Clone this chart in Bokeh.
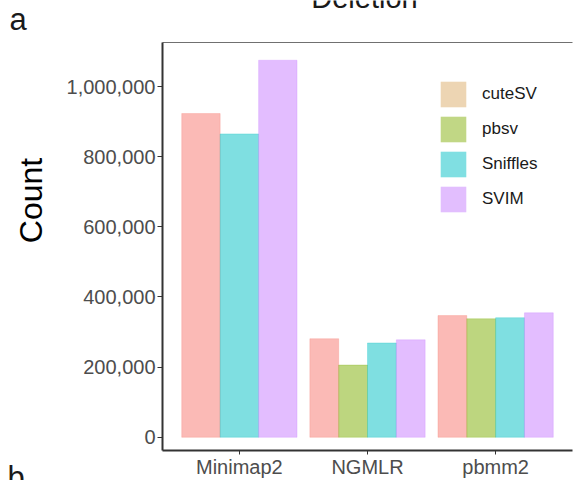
import math
from bokeh.plotting import figure
from bokeh.models import (Range1d, FixedTicker, LinearAxis, Legend,
                          LegendItem, ColumnDataSource, NumeralTickFormatter,
                          GridBox)
from bokeh.core.properties import value
from bokeh.embed import file_html
from bokeh.resources import INLINE

# Deletion counts per aligner and caller (None = caller not run)
aligners = ["Minimap2", "NGMLR", "pbmm2"]
callers = ["cuteSV", "pbsv", "Sniffles", "SVIM"]
cutesv = [923000, 281000, 347000]
pbsv = [None, 206000, 338000]
sniffles = [865000, 269000, 341000]
svim = [1075000, 278000, 355000]

series = [cutesv, pbsv, sniffles, svim]
bar_colors = ["#F8766D", "#7CAE00", "#00BFC4", "#C77CFF"]
key_colors = ["#EDD5B3", "#C1D785", "#80DFE2", "#E2BEFE"]

FONT = "Liberation Sans"
W, H = 573, 480
ymax = max(v for s in series for v in s if v is not None)

p = figure(width=W, height=H, output_backend="svg", toolbar_location=None,
           x_range=Range1d(0.4, 3.6),
           y_range=Range1d(-0.035 * ymax, 1.047 * ymax),
           min_border_left=162, min_border_right=1, min_border_top=42,
           min_border_bottom=27)
p.frame_align = False
p.xgrid.visible = False
p.ygrid.visible = False
p.outline_line_color = None
p.background_fill_color = "white"

# dodge bars within each aligner; width shared by the callers present
sources = []
for ci, vals in enumerate(series):
    left, right, top = [], [], []
    for ai, v in enumerate(vals):
        present = [k for k in range(len(series)) if series[k][ai] is not None]
        if v is None:
            continue
        n = len(present)
        w = 0.9 / n
        pos = present.index(ci)
        x0 = (ai + 1) - 0.45 + pos * w
        left.append(x0)
        right.append(x0 + w)
        top.append(v)
    src = ColumnDataSource(dict(left=left, right=right, top=top))
    sources.append(src)
    p.quad(left="left", right="right", bottom=0, top="top", source=src,
           fill_color=bar_colors[ci], fill_alpha=0.5,
           line_color=bar_colors[ci], line_alpha=0.25, line_width=1)

# axes
p.xaxis.ticker = FixedTicker(ticks=[1, 2, 3])
p.xaxis.major_label_overrides = {1: aligners[0], 2: aligners[1], 3: aligners[2]}
p.yaxis.ticker = FixedTicker(ticks=[0, 200000, 400000, 600000, 800000, 1000000])
p.yaxis.formatter = NumeralTickFormatter(format="0,0")
for ax in (p.xaxis[0], p.yaxis[0]):
    ax.axis_line_color = "#333333"
    ax.axis_line_width = 2
    ax.major_tick_line_color = "#333333"
    ax.major_tick_line_width = 1
    ax.major_tick_out = 5
    ax.major_tick_in = 0
    ax.minor_tick_line_color = None
    ax.major_label_text_font = FONT
    ax.major_label_text_font_size = "20px"
    ax.major_label_text_color = "#4D4D4D"
    ax.major_label_standoff = 2
    ax.axis_label = None
    ax.axis_label_standoff = 0
    ax.axis_label_text_font_size = "0px"
p.xaxis.major_tick_out = 4
p.xaxis.major_label_standoff = 1
p.xaxis.major_label_text_line_height = 0.9

# thin grey top border
top_axis = LinearAxis(ticker=FixedTicker(ticks=[]), axis_line_color="#707070",
                      axis_line_width=1, major_tick_line_color=None,
                      minor_tick_line_color=None, major_label_text_font_size="0px",
                      axis_label=None, axis_label_text_font_size="0px",
                      axis_label_standoff=0, major_label_standoff=0)
p.add_layout(top_axis, "above")

# legend keys: hidden copies of the bars in solid key colours
items = []
for name, kc, src in zip(callers, key_colors, sources):
    r = p.quad(left="left", right="right", bottom=0, top="top", source=src,
               fill_color=kc, line_color=None, visible=False)
    items.append(LegendItem(label=name, renderers=[r]))
legend = Legend(items=items, location=(275, 235), margin=0, padding=0,
                spacing=3, glyph_width=32, glyph_height=32, label_height=32,
                label_standoff=13, label_text_font=FONT,
                label_text_font_size="17px", label_text_color="#1A1A1A",
                border_line_color=None, background_fill_alpha=0,
                click_policy="none")
p.add_layout(legend)

# transparent text layer spanning the whole chart, in pixel coordinates
t = figure(width=W, height=H, output_backend="svg", toolbar_location=None,
           x_range=Range1d(0, W), y_range=Range1d(H, 0),
           x_axis_location=None, y_axis_location=None,
           min_border=0, outline_line_color=None,
           background_fill_color=None, border_fill_color=None)
t.frame_align = False
t.xgrid.visible = False
t.ygrid.visible = False
layer = [("Deletion", 364, -3, "29px", "center", "alphabetic", 0.0, "#1A1A1A"),
         ("a", 9, 19, "31px", "left", "alphabetic", 0.0, "#1A1A1A"),
         ("b", 7, 477, "31px", "left", "alphabetic", 0.0, "#1A1A1A"),
         ("Count", 30, 200, "32px", "center", "middle", math.pi / 2, "#000000")]
for txt, x, y, size, align, base, ang, col in layer:
    t.text(x=[x], y=[y], text=[txt], angle=ang, text_align=align,
           text_baseline=base, text_font=value(FONT), text_font_size=size,
           text_color=col)

grid = GridBox(children=[(p, 0, 0), (t, 0, 0)])
open("out.html", "w").write(file_html(grid, INLINE))
